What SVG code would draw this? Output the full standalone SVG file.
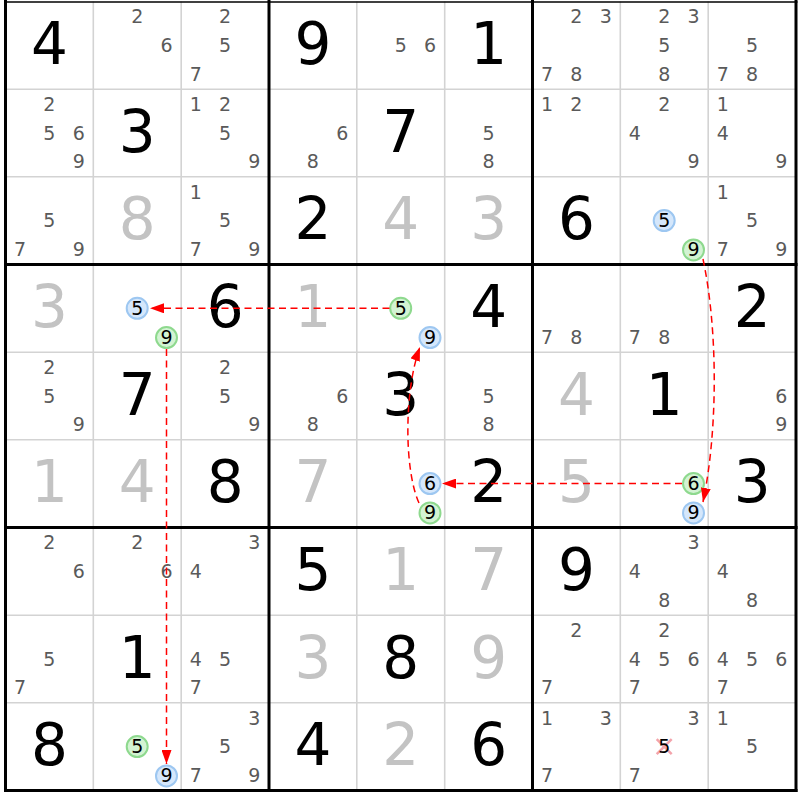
<svg xmlns="http://www.w3.org/2000/svg" width="800" height="800" viewBox="0 0 800 800">
<style>
text{font-family:"DejaVu Sans","Liberation Sans",sans-serif;text-anchor:middle}
.p{font-size:19px;fill:#5a5a5a}
.k{font-size:19px;fill:#000}
.b{font-size:58px;fill:#000}
.s{font-size:58px;fill:#c3c3c3}
.thin{stroke:#d3d3d3;stroke-width:1.6}
.thick{stroke:#000;stroke-width:3}
.cb{fill:#d5e7fb;stroke:#9dc7f1;stroke-width:2}
.cg{fill:#d3f3d3;stroke:#8ed98e;stroke-width:2}
.x{stroke:#f3a3ab;stroke-width:2.5}
.arr{fill:none;stroke:#f00;stroke-width:1.5;stroke-dasharray:7 4.5}
</style>
<defs>
<marker id="ah" viewBox="0 0 14 10" refX="14" refY="5" markerWidth="14" markerHeight="10" markerUnits="userSpaceOnUse" orient="auto">
<path d="M0,0 L14,5 L0,10 z" fill="#f00"/>
</marker>
</defs>
<rect width="800" height="800" fill="#fff"/>
<g id="grid">
<line class="thin" x1="93.3" y1="1.5" x2="93.3" y2="790.5"/>
<line class="thin" x1="181.2" y1="1.5" x2="181.2" y2="790.5"/>
<line class="thin" x1="356.8" y1="1.5" x2="356.8" y2="790.5"/>
<line class="thin" x1="444.7" y1="1.5" x2="444.7" y2="790.5"/>
<line class="thin" x1="620.3" y1="1.5" x2="620.3" y2="790.5"/>
<line class="thin" x1="708.2" y1="1.5" x2="708.2" y2="790.5"/>
<line class="thin" x1="5.5" y1="89.2" x2="796" y2="89.2"/>
<line class="thin" x1="5.5" y1="176.8" x2="796" y2="176.8"/>
<line class="thin" x1="5.5" y1="352.2" x2="796" y2="352.2"/>
<line class="thin" x1="5.5" y1="439.8" x2="796" y2="439.8"/>
<line class="thin" x1="5.5" y1="615.2" x2="796" y2="615.2"/>
<line class="thin" x1="5.5" y1="702.8" x2="796" y2="702.8"/>
<line class="thick" x1="5.5" y1="0" x2="5.5" y2="792"/>
<line class="thick" x1="269" y1="0" x2="269" y2="792"/>
<line class="thick" x1="532.5" y1="0" x2="532.5" y2="792"/>
<line class="thick" x1="796" y1="0" x2="796" y2="792"/>
<line x1="4" y1="2" x2="797.5" y2="2" stroke="#000" stroke-width="1.5"/>
<line class="thick" x1="4" y1="264.5" x2="797.5" y2="264.5"/>
<line class="thick" x1="4" y1="527.5" x2="797.5" y2="527.5"/>
<line class="thick" x1="4" y1="790.5" x2="797.5" y2="790.5"/>
</g>
<g id="cells">
<g id="r1c1"><text class="b" x="49.4" y="64">4</text></g>
<g id="r1c2"><text class="p" x="137.2" y="23.3">2</text><text class="p" x="166.5" y="52">6</text></g>
<g id="r1c3"><text class="p" x="225.1" y="23.3">2</text><text class="p" x="225.1" y="52">5</text><text class="p" x="195.8" y="80.7">7</text></g>
<g id="r1c4"><text class="b" x="312.9" y="64">9</text></g>
<g id="r1c5"><text class="p" x="400.7" y="52">5</text><text class="p" x="430" y="52">6</text></g>
<g id="r1c6"><text class="b" x="488.6" y="64">1</text></g>
<g id="r1c7"><text class="p" x="576.4" y="23.3">2</text><text class="p" x="605.7" y="23.3">3</text><text class="p" x="547.1" y="80.7">7</text><text class="p" x="576.4" y="80.7">8</text></g>
<g id="r1c8"><text class="p" x="664.2" y="23.3">2</text><text class="p" x="693.5" y="23.3">3</text><text class="p" x="664.2" y="52">5</text><text class="p" x="664.2" y="80.7">8</text></g>
<g id="r1c9"><text class="p" x="752.1" y="52">5</text><text class="p" x="722.8" y="80.7">7</text><text class="p" x="752.1" y="80.7">8</text></g>

<g id="r2c1"><text class="p" x="49.4" y="111">2</text><text class="p" x="49.4" y="139.7">5</text><text class="p" x="78.7" y="139.7">6</text><text class="p" x="78.7" y="168.4">9</text></g>
<g id="r2c2"><text class="b" x="137.2" y="151.7">3</text></g>
<g id="r2c3"><text class="p" x="195.8" y="111">1</text><text class="p" x="225.1" y="111">2</text><text class="p" x="225.1" y="139.7">5</text><text class="p" x="254.4" y="168.4">9</text></g>
<g id="r2c4"><text class="p" x="342.2" y="139.7">6</text><text class="p" x="312.9" y="168.4">8</text></g>
<g id="r2c5"><text class="b" x="400.7" y="151.7">7</text></g>
<g id="r2c6"><text class="p" x="488.6" y="139.7">5</text><text class="p" x="488.6" y="168.4">8</text></g>
<g id="r2c7"><text class="p" x="547.1" y="111">1</text><text class="p" x="576.4" y="111">2</text></g>
<g id="r2c8"><text class="p" x="664.2" y="111">2</text><text class="p" x="634.9" y="139.7">4</text><text class="p" x="693.5" y="168.4">9</text></g>
<g id="r2c9"><text class="p" x="722.8" y="111">1</text><text class="p" x="722.8" y="139.7">4</text><text class="p" x="781.4" y="168.4">9</text></g>

<g id="r3c1"><text class="p" x="49.4" y="227.3">5</text><text class="p" x="20.1" y="256">7</text><text class="p" x="78.7" y="256">9</text></g>
<g id="r3c2"><text class="s" x="137.2" y="239.3">8</text></g>
<g id="r3c3"><text class="p" x="195.8" y="198.6">1</text><text class="p" x="225.1" y="227.3">5</text><text class="p" x="195.8" y="256">7</text><text class="p" x="254.4" y="256">9</text></g>
<g id="r3c4"><text class="b" x="312.9" y="239.3">2</text></g>
<g id="r3c5"><text class="s" x="400.7" y="239.3">4</text></g>
<g id="r3c6"><text class="s" x="488.6" y="239.3">3</text></g>
<g id="r3c7"><text class="b" x="576.4" y="239.3">6</text></g>
<g id="r3c8"><circle class="cb" cx="664.2" cy="220.6" r="10.5"/><text class="k" x="664.2" y="227.3">5</text><circle class="cg" cx="693.5" cy="249.9" r="10.5"/><text class="k" x="693.5" y="256">9</text></g>
<g id="r3c9"><text class="p" x="722.8" y="198.6">1</text><text class="p" x="752.1" y="227.3">5</text><text class="p" x="722.8" y="256">7</text><text class="p" x="781.4" y="256">9</text></g>

<g id="r4c1"><text class="s" x="49.4" y="327">3</text></g>
<g id="r4c2"><circle class="cb" cx="137.2" cy="308.3" r="10.5"/><text class="k" x="137.2" y="315">5</text><circle class="cg" cx="166.5" cy="337.6" r="10.5"/><text class="k" x="166.5" y="343.7">9</text></g>
<g id="r4c3"><text class="b" x="225.1" y="327">6</text></g>
<g id="r4c4"><text class="s" x="312.9" y="327">1</text></g>
<g id="r4c5"><circle class="cg" cx="400.7" cy="308.3" r="10.5"/><text class="k" x="400.7" y="315">5</text><circle class="cb" cx="430" cy="337.6" r="10.5"/><text class="k" x="430" y="343.7">9</text></g>
<g id="r4c6"><text class="b" x="488.6" y="327">4</text></g>
<g id="r4c7"><text class="p" x="547.1" y="343.7">7</text><text class="p" x="576.4" y="343.7">8</text></g>
<g id="r4c8"><text class="p" x="634.9" y="343.7">7</text><text class="p" x="664.2" y="343.7">8</text></g>
<g id="r4c9"><text class="b" x="752.1" y="327">2</text></g>

<g id="r5c1"><text class="p" x="49.4" y="374">2</text><text class="p" x="49.4" y="402.7">5</text><text class="p" x="78.7" y="431.4">9</text></g>
<g id="r5c2"><text class="b" x="137.2" y="414.7">7</text></g>
<g id="r5c3"><text class="p" x="225.1" y="374">2</text><text class="p" x="225.1" y="402.7">5</text><text class="p" x="254.4" y="431.4">9</text></g>
<g id="r5c4"><text class="p" x="342.2" y="402.7">6</text><text class="p" x="312.9" y="431.4">8</text></g>
<g id="r5c5"><text class="b" x="400.7" y="414.7">3</text></g>
<g id="r5c6"><text class="p" x="488.6" y="402.7">5</text><text class="p" x="488.6" y="431.4">8</text></g>
<g id="r5c7"><text class="s" x="576.4" y="414.7">4</text></g>
<g id="r5c8"><text class="b" x="664.2" y="414.7">1</text></g>
<g id="r5c9"><text class="p" x="781.4" y="402.7">6</text><text class="p" x="781.4" y="431.4">9</text></g>

<g id="r6c1"><text class="s" x="49.4" y="502.3">1</text></g>
<g id="r6c2"><text class="s" x="137.2" y="502.3">4</text></g>
<g id="r6c3"><text class="b" x="225.1" y="502.3">8</text></g>
<g id="r6c4"><text class="s" x="312.9" y="502.3">7</text></g>
<g id="r6c5"><circle class="cb" cx="430" cy="483.6" r="10.5"/><text class="k" x="430" y="490.3">6</text><circle class="cg" cx="430" cy="512.9" r="10.5"/><text class="k" x="430" y="519">9</text></g>
<g id="r6c6"><text class="b" x="488.6" y="502.3">2</text></g>
<g id="r6c7"><text class="s" x="576.4" y="502.3">5</text></g>
<g id="r6c8"><circle class="cg" cx="693.5" cy="483.6" r="10.5"/><text class="k" x="693.5" y="490.3">6</text><circle class="cb" cx="693.5" cy="512.9" r="10.5"/><text class="k" x="693.5" y="519">9</text></g>
<g id="r6c9"><text class="b" x="752.1" y="502.3">3</text></g>

<g id="r7c1"><text class="p" x="49.4" y="549.3">2</text><text class="p" x="78.7" y="578">6</text></g>
<g id="r7c2"><text class="p" x="137.2" y="549.3">2</text><text class="p" x="166.5" y="578">6</text></g>
<g id="r7c3"><text class="p" x="254.4" y="549.3">3</text><text class="p" x="195.8" y="578">4</text></g>
<g id="r7c4"><text class="b" x="312.9" y="590">5</text></g>
<g id="r7c5"><text class="s" x="400.7" y="590">1</text></g>
<g id="r7c6"><text class="s" x="488.6" y="590">7</text></g>
<g id="r7c7"><text class="b" x="576.4" y="590">9</text></g>
<g id="r7c8"><text class="p" x="693.5" y="549.3">3</text><text class="p" x="634.9" y="578">4</text><text class="p" x="664.2" y="606.7">8</text></g>
<g id="r7c9"><text class="p" x="722.8" y="578">4</text><text class="p" x="752.1" y="606.7">8</text></g>

<g id="r8c1"><text class="p" x="49.4" y="665.7">5</text><text class="p" x="20.1" y="694.4">7</text></g>
<g id="r8c2"><text class="b" x="137.2" y="677.7">1</text></g>
<g id="r8c3"><text class="p" x="195.8" y="665.7">4</text><text class="p" x="225.1" y="665.7">5</text><text class="p" x="195.8" y="694.4">7</text></g>
<g id="r8c4"><text class="s" x="312.9" y="677.7">3</text></g>
<g id="r8c5"><text class="b" x="400.7" y="677.7">8</text></g>
<g id="r8c6"><text class="s" x="488.6" y="677.7">9</text></g>
<g id="r8c7"><text class="p" x="576.4" y="637">2</text><text class="p" x="547.1" y="694.4">7</text></g>
<g id="r8c8"><text class="p" x="664.2" y="637">2</text><text class="p" x="634.9" y="665.7">4</text><text class="p" x="664.2" y="665.7">5</text><text class="p" x="693.5" y="665.7">6</text><text class="p" x="634.9" y="694.4">7</text></g>
<g id="r8c9"><text class="p" x="722.8" y="665.7">4</text><text class="p" x="752.1" y="665.7">5</text><text class="p" x="781.4" y="665.7">6</text><text class="p" x="722.8" y="694.4">7</text></g>

<g id="r9c1"><text class="b" x="49.4" y="765.3">8</text></g>
<g id="r9c2"><circle class="cg" cx="137.2" cy="746.6" r="10.5"/><text class="k" x="137.2" y="753.3">5</text><circle class="cb" cx="166.5" cy="775.9" r="10.5"/><text class="k" x="166.5" y="782">9</text></g>
<g id="r9c3"><text class="p" x="254.4" y="724.6">3</text><text class="p" x="225.1" y="753.3">5</text><text class="p" x="195.8" y="782">7</text><text class="p" x="254.4" y="782">9</text></g>
<g id="r9c4"><text class="b" x="312.9" y="765.3">4</text></g>
<g id="r9c5"><text class="s" x="400.7" y="765.3">2</text></g>
<g id="r9c6"><text class="b" x="488.6" y="765.3">6</text></g>
<g id="r9c7"><text class="p" x="547.1" y="724.6">1</text><text class="p" x="605.7" y="724.6">3</text><text class="p" x="547.1" y="782">7</text></g>
<g id="r9c8"><text class="p" x="693.5" y="724.6">3</text><line class="x" x1="656.7" y1="739.1" x2="671.7" y2="754.1"/><line class="x" x1="671.7" y1="739.1" x2="656.7" y2="754.1"/><text class="k" x="664.2" y="753.3">5</text><text class="p" x="634.9" y="782">7</text></g>
<g id="r9c9"><text class="p" x="722.8" y="724.6">1</text><text class="p" x="752.1" y="753.3">5</text></g>
</g>
<g id="connectors">
<path class="arr" d="M703,259 C718,330 718,430 703,502" marker-end="url(#ah)"/>
<path class="arr" d="M682,483.6 L442,483.6" marker-end="url(#ah)"/>
<path class="arr" d="M419,503 C404,470 404,390 420,347" marker-end="url(#ah)"/>
<path class="arr" d="M389.5,308.3 L150,308.3" marker-end="url(#ah)"/>
<path class="arr" d="M166.5,349 L166.5,764" marker-end="url(#ah)"/>
</g>
</svg>
